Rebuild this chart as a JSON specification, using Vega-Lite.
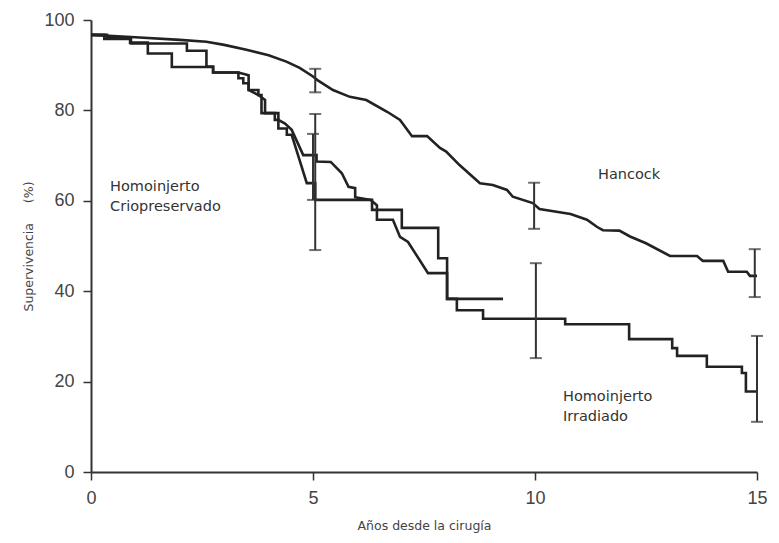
{
  "$schema": "https://vega.github.io/schema/vega-lite/v6.json",
  "width": 666,
  "height": 452,
  "autosize": "none",
  "padding": {"left": 91, "top": 20, "right": 22, "bottom": 71},
  "background": "white",
  "config": {
    "view": {"stroke": null},
    "axis": {"grid": false, "domainColor": "#333", "domainWidth": 2, "tickColor": "#333", "tickWidth": 1.5, "tickSize": 8,
      "labelFont": "Liberation Sans", "labelFontSize": 18, "labelColor": "#444", "labelPadding": 9,
      "titleFont": "DejaVu Sans", "titleFontSize": 12.5, "titleFontWeight": "normal", "titleColor": "#444"}
  },
  "datasets": {
    "curves": [
      {"s": "Hancock", "i": 0, "x": 0, "y": 96.7},
      {"s": "Hancock", "i": 1, "x": 1.0, "y": 96.2},
      {"s": "Hancock", "i": 2, "x": 2.0, "y": 95.6},
      {"s": "Hancock", "i": 3, "x": 2.6, "y": 95.2},
      {"s": "Hancock", "i": 4, "x": 3.0, "y": 94.5},
      {"s": "Hancock", "i": 5, "x": 3.5, "y": 93.4},
      {"s": "Hancock", "i": 6, "x": 4.0, "y": 92.2},
      {"s": "Hancock", "i": 7, "x": 4.4, "y": 90.8},
      {"s": "Hancock", "i": 8, "x": 4.7, "y": 89.4},
      {"s": "Hancock", "i": 9, "x": 5.0, "y": 87.5},
      {"s": "Hancock", "i": 10, "x": 5.1, "y": 86.7},
      {"s": "Hancock", "i": 11, "x": 5.45, "y": 84.5},
      {"s": "Hancock", "i": 12, "x": 5.83, "y": 83.0},
      {"s": "Hancock", "i": 13, "x": 6.2, "y": 82.3},
      {"s": "Hancock", "i": 14, "x": 6.67, "y": 79.7},
      {"s": "Hancock", "i": 15, "x": 6.96, "y": 77.9},
      {"s": "Hancock", "i": 16, "x": 7.23, "y": 74.3},
      {"s": "Hancock", "i": 17, "x": 7.57, "y": 74.3},
      {"s": "Hancock", "i": 18, "x": 7.86, "y": 71.7},
      {"s": "Hancock", "i": 19, "x": 8.0, "y": 70.9},
      {"s": "Hancock", "i": 20, "x": 8.3, "y": 67.9},
      {"s": "Hancock", "i": 21, "x": 8.76, "y": 63.9},
      {"s": "Hancock", "i": 22, "x": 9.05, "y": 63.5},
      {"s": "Hancock", "i": 23, "x": 9.37, "y": 62.4},
      {"s": "Hancock", "i": 24, "x": 9.5, "y": 60.9},
      {"s": "Hancock", "i": 25, "x": 9.95, "y": 59.5},
      {"s": "Hancock", "i": 26, "x": 10.1, "y": 58.2},
      {"s": "Hancock", "i": 27, "x": 10.8, "y": 57.1},
      {"s": "Hancock", "i": 28, "x": 11.17, "y": 55.8},
      {"s": "Hancock", "i": 29, "x": 11.4, "y": 54.2},
      {"s": "Hancock", "i": 30, "x": 11.53, "y": 53.5},
      {"s": "Hancock", "i": 31, "x": 11.9, "y": 53.4},
      {"s": "Hancock", "i": 32, "x": 12.14, "y": 52.1},
      {"s": "Hancock", "i": 33, "x": 12.5, "y": 50.6},
      {"s": "Hancock", "i": 34, "x": 13.04, "y": 47.8},
      {"s": "Hancock", "i": 35, "x": 13.65, "y": 47.8},
      {"s": "Hancock", "i": 36, "x": 13.78, "y": 46.7},
      {"s": "Hancock", "i": 37, "x": 14.24, "y": 46.7},
      {"s": "Hancock", "i": 38, "x": 14.35, "y": 44.3},
      {"s": "Hancock", "i": 39, "x": 14.77, "y": 44.3},
      {"s": "Hancock", "i": 40, "x": 14.84, "y": 43.4},
      {"s": "Hancock", "i": 41, "x": 15.0, "y": 43.4},

      {"s": "Crio", "i": 0, "x": 0, "y": 96.7},
      {"s": "Crio", "i": 1, "x": 0.36, "y": 96.7},
      {"s": "Crio", "i": 2, "x": 0.36, "y": 96.0},
      {"s": "Crio", "i": 3, "x": 0.88, "y": 96.0},
      {"s": "Crio", "i": 4, "x": 0.88, "y": 95.0},
      {"s": "Crio", "i": 5, "x": 1.28, "y": 95.0},
      {"s": "Crio", "i": 6, "x": 1.28, "y": 92.6},
      {"s": "Crio", "i": 7, "x": 1.82, "y": 92.6},
      {"s": "Crio", "i": 8, "x": 1.82, "y": 89.6},
      {"s": "Crio", "i": 9, "x": 2.75, "y": 89.6},
      {"s": "Crio", "i": 10, "x": 2.75, "y": 88.4},
      {"s": "Crio", "i": 11, "x": 3.32, "y": 88.4},
      {"s": "Crio", "i": 12, "x": 3.32, "y": 87.1},
      {"s": "Crio", "i": 13, "x": 3.43, "y": 87.1},
      {"s": "Crio", "i": 14, "x": 3.43, "y": 86.0},
      {"s": "Crio", "i": 15, "x": 3.55, "y": 86.0},
      {"s": "Crio", "i": 16, "x": 3.55, "y": 84.5},
      {"s": "Crio", "i": 17, "x": 3.77, "y": 84.5},
      {"s": "Crio", "i": 18, "x": 3.77, "y": 83.4},
      {"s": "Crio", "i": 19, "x": 3.84, "y": 83.4},
      {"s": "Crio", "i": 20, "x": 3.84, "y": 79.4},
      {"s": "Crio", "i": 21, "x": 4.14, "y": 79.4},
      {"s": "Crio", "i": 22, "x": 4.14, "y": 77.9},
      {"s": "Crio", "i": 23, "x": 4.22, "y": 77.9},
      {"s": "Crio", "i": 24, "x": 4.22, "y": 76.0},
      {"s": "Crio", "i": 25, "x": 4.41, "y": 76.0},
      {"s": "Crio", "i": 26, "x": 4.41, "y": 74.6},
      {"s": "Crio", "i": 27, "x": 4.52, "y": 74.6},
      {"s": "Crio", "i": 28, "x": 4.86, "y": 63.9},
      {"s": "Crio", "i": 29, "x": 5.05, "y": 63.9},
      {"s": "Crio", "i": 30, "x": 5.05, "y": 60.2},
      {"s": "Crio", "i": 31, "x": 6.33, "y": 60.2},
      {"s": "Crio", "i": 32, "x": 6.33, "y": 58.0},
      {"s": "Crio", "i": 33, "x": 7.0, "y": 58.0},
      {"s": "Crio", "i": 34, "x": 7.0, "y": 54.0},
      {"s": "Crio", "i": 35, "x": 7.82, "y": 54.0},
      {"s": "Crio", "i": 36, "x": 7.82, "y": 47.3},
      {"s": "Crio", "i": 37, "x": 8.02, "y": 47.3},
      {"s": "Crio", "i": 38, "x": 8.02, "y": 38.3},
      {"s": "Crio", "i": 39, "x": 9.28, "y": 38.3},

      {"s": "Irr", "i": 0, "x": 0, "y": 96.7},
      {"s": "Irr", "i": 1, "x": 0.3, "y": 96.7},
      {"s": "Irr", "i": 2, "x": 0.3, "y": 95.8},
      {"s": "Irr", "i": 3, "x": 0.9, "y": 95.8},
      {"s": "Irr", "i": 4, "x": 0.9, "y": 94.8},
      {"s": "Irr", "i": 5, "x": 2.16, "y": 94.8},
      {"s": "Irr", "i": 6, "x": 2.16, "y": 93.2},
      {"s": "Irr", "i": 7, "x": 2.6, "y": 93.2},
      {"s": "Irr", "i": 8, "x": 2.6, "y": 89.7},
      {"s": "Irr", "i": 9, "x": 2.75, "y": 89.7},
      {"s": "Irr", "i": 10, "x": 2.75, "y": 88.4},
      {"s": "Irr", "i": 11, "x": 3.32, "y": 88.4},
      {"s": "Irr", "i": 12, "x": 3.55, "y": 87.8},
      {"s": "Irr", "i": 13, "x": 3.55, "y": 84.5},
      {"s": "Irr", "i": 14, "x": 3.77, "y": 83.4},
      {"s": "Irr", "i": 15, "x": 3.92, "y": 82.3},
      {"s": "Irr", "i": 16, "x": 3.92, "y": 79.4},
      {"s": "Irr", "i": 17, "x": 4.22, "y": 79.4},
      {"s": "Irr", "i": 18, "x": 4.22, "y": 77.9},
      {"s": "Irr", "i": 19, "x": 4.37, "y": 77.1},
      {"s": "Irr", "i": 20, "x": 4.52, "y": 75.7},
      {"s": "Irr", "i": 21, "x": 4.78, "y": 70.1},
      {"s": "Irr", "i": 22, "x": 5.08, "y": 70.1},
      {"s": "Irr", "i": 23, "x": 5.08, "y": 68.7},
      {"s": "Irr", "i": 24, "x": 5.4, "y": 68.6},
      {"s": "Irr", "i": 25, "x": 5.65, "y": 66.1},
      {"s": "Irr", "i": 26, "x": 5.8, "y": 63.1},
      {"s": "Irr", "i": 27, "x": 5.95, "y": 62.8},
      {"s": "Irr", "i": 28, "x": 5.95, "y": 60.8},
      {"s": "Irr", "i": 29, "x": 6.3, "y": 60.2},
      {"s": "Irr", "i": 30, "x": 6.44, "y": 59.0},
      {"s": "Irr", "i": 31, "x": 6.44, "y": 55.8},
      {"s": "Irr", "i": 32, "x": 6.8, "y": 55.8},
      {"s": "Irr", "i": 33, "x": 6.96, "y": 52.0},
      {"s": "Irr", "i": 34, "x": 7.14, "y": 50.9},
      {"s": "Irr", "i": 35, "x": 7.59, "y": 44.0},
      {"s": "Irr", "i": 36, "x": 8.02, "y": 44.0},
      {"s": "Irr", "i": 37, "x": 8.02, "y": 38.3},
      {"s": "Irr", "i": 38, "x": 8.24, "y": 38.3},
      {"s": "Irr", "i": 39, "x": 8.24, "y": 35.8},
      {"s": "Irr", "i": 40, "x": 8.83, "y": 35.8},
      {"s": "Irr", "i": 41, "x": 8.83, "y": 33.9},
      {"s": "Irr", "i": 42, "x": 10.68, "y": 33.9},
      {"s": "Irr", "i": 43, "x": 10.68, "y": 32.7},
      {"s": "Irr", "i": 44, "x": 12.12, "y": 32.7},
      {"s": "Irr", "i": 45, "x": 12.12, "y": 29.4},
      {"s": "Irr", "i": 46, "x": 13.09, "y": 29.4},
      {"s": "Irr", "i": 47, "x": 13.09, "y": 27.4},
      {"s": "Irr", "i": 48, "x": 13.2, "y": 27.4},
      {"s": "Irr", "i": 49, "x": 13.2, "y": 25.7},
      {"s": "Irr", "i": 50, "x": 13.87, "y": 25.7},
      {"s": "Irr", "i": 51, "x": 13.87, "y": 23.3},
      {"s": "Irr", "i": 52, "x": 14.66, "y": 23.3},
      {"s": "Irr", "i": 53, "x": 14.66, "y": 21.9},
      {"s": "Irr", "i": 54, "x": 14.75, "y": 21.9},
      {"s": "Irr", "i": 55, "x": 14.75, "y": 17.8},
      {"s": "Irr", "i": 56, "x": 15.0, "y": 17.8}
    ],
    "bars": [
      {"x": 5.05, "lo": 84.0, "hi": 89.2},
      {"x": 5.05, "lo": 49.1, "hi": 79.2},
      {"x": 5.0, "lo": 60.2, "hi": 74.8},
      {"x": 9.98, "lo": 53.8, "hi": 64.0},
      {"x": 10.02, "lo": 25.2, "hi": 46.2},
      {"x": 14.95, "lo": 38.7, "hi": 49.3},
      {"x": 15.0, "lo": 11.1, "hi": 30.1}
    ],
    "labels": [
      {"x": 0.43, "y": 63.0, "t": "Homoinjerto"},
      {"x": 0.43, "y": 58.6, "t": "Criopreservado"},
      {"x": 11.42, "y": 65.7, "t": "Hancock"},
      {"x": 10.63, "y": 16.6, "t": "Homoinjerto"},
      {"x": 10.63, "y": 12.2, "t": "Irradiado"}
    ]
  },
  "layer": [
    {
      "data": {"name": "curves"},
      "mark": {"type": "line", "stroke": "#222", "strokeWidth": 2.6, "strokeJoin": "miter"},
      "encoding": {
        "x": {"field": "x", "type": "quantitative", "scale": {"domain": [0, 15], "nice": false},
          "axis": {"values": [0, 5, 10, 15], "title": "Años desde la cirugía", "labelFlush": false, "titlePadding": 12}},
        "y": {"field": "y", "type": "quantitative", "scale": {"domain": [0, 100], "nice": false},
          "axis": {"values": [0, 20, 40, 60, 80, 100], "title": "Supervivencia\u00a0\u00a0\u00a0\u00a0\u00a0(%)", "titlePadding": 8}},
        "detail": {"field": "s"},
        "order": {"field": "i", "type": "quantitative"}
      }
    },
    {
      "data": {"name": "bars"},
      "mark": {"type": "errorbar", "ticks": {"size": 12, "thickness": 2, "color": "#333"}, "rule": {"strokeWidth": 2, "color": "#333"}, "thickness": 2, "color": "#333"},
      "encoding": {
        "x": {"field": "x", "type": "quantitative", "title": "Años desde la cirugía"},
        "y": {"field": "lo", "type": "quantitative", "title": "Supervivencia\u00a0\u00a0\u00a0\u00a0\u00a0(%)"},
        "y2": {"field": "hi"}
      }
    },
    {
      "data": {"name": "labels"},
      "mark": {"type": "text", "align": "left", "baseline": "middle", "font": "DejaVu Sans", "fontSize": 14.5, "color": "#333"},
      "encoding": {
        "x": {"field": "x", "type": "quantitative", "title": "Años desde la cirugía"},
        "y": {"field": "y", "type": "quantitative", "title": "Supervivencia\u00a0\u00a0\u00a0\u00a0\u00a0(%)"},
        "text": {"field": "t"}
      }
    }
  ]
}
